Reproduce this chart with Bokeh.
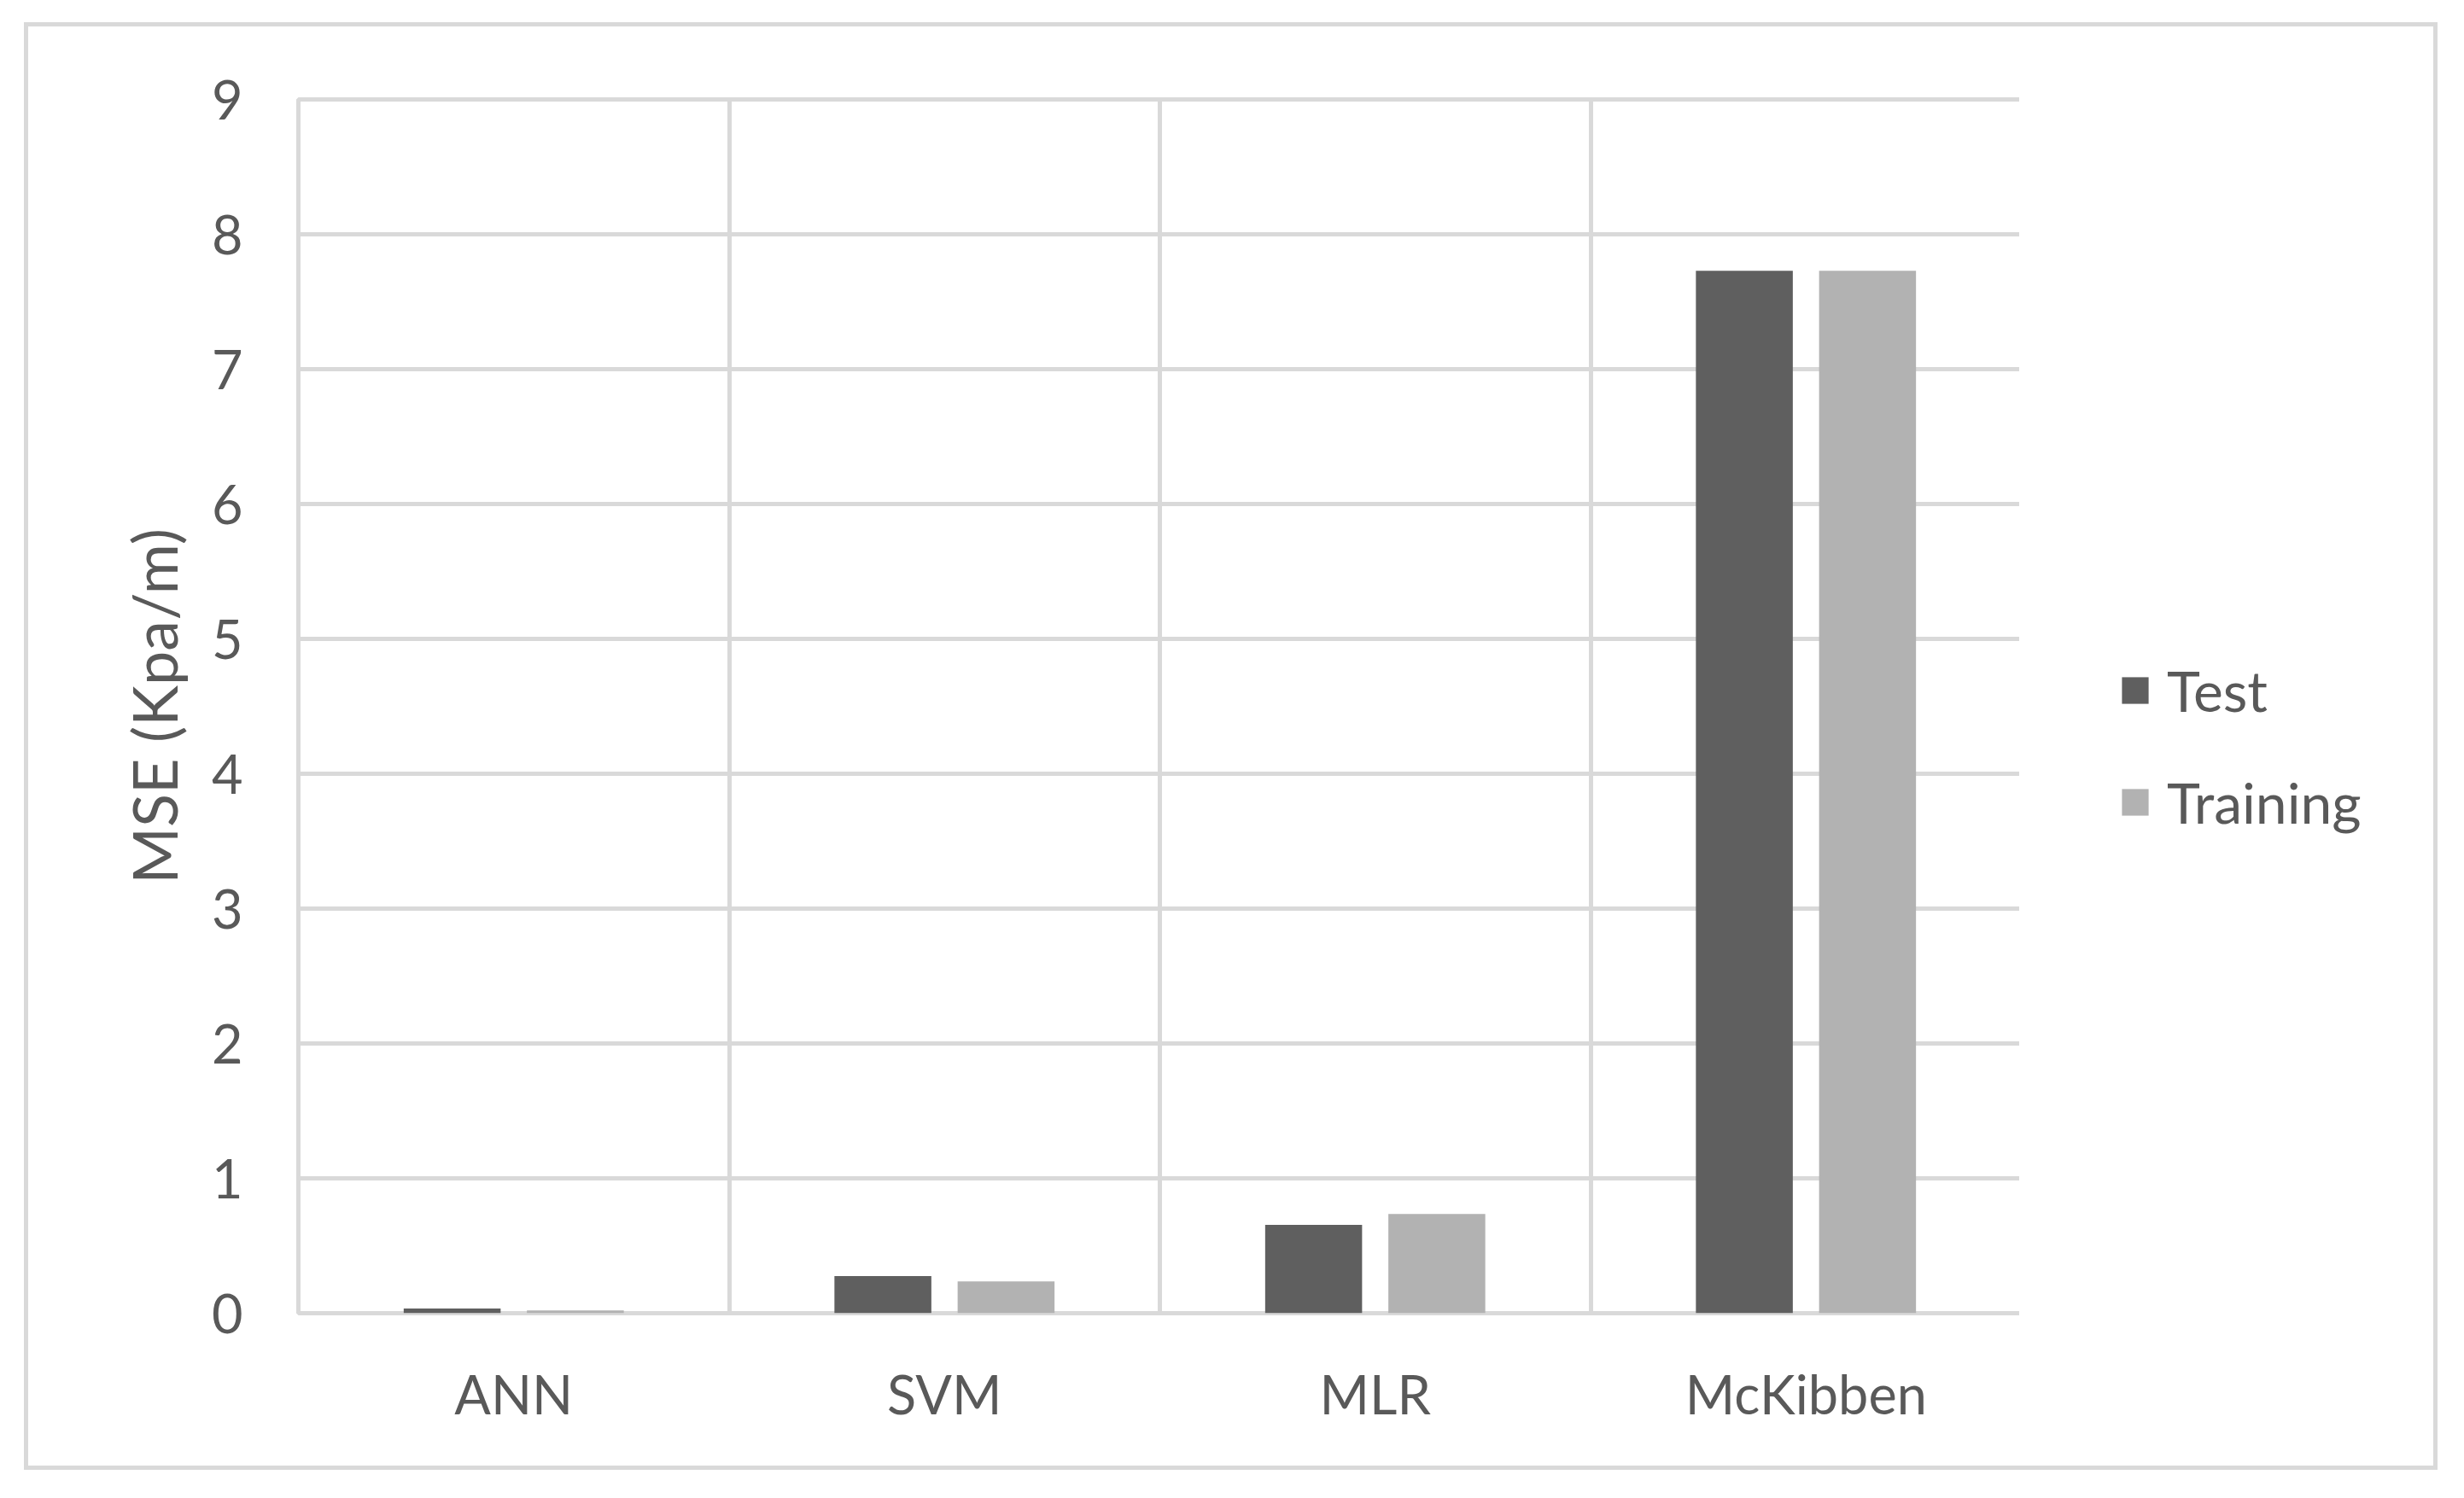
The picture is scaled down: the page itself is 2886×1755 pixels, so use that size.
from bokeh.plotting import figure
from bokeh.layouts import row
from bokeh.models import ColumnDataSource, FactorRange, Range1d, FixedTicker, Legend, LegendItem
from bokeh.transform import dodge
from bokeh.embed import file_html
from bokeh.resources import INLINE

categories = ["ANN", "SVM", "MLR", "McKibben"]
test_mse = [0.035, 0.275, 0.655, 7.73]
training_mse = [0.02, 0.235, 0.735, 7.73]
y_ticks = [0, 1, 2, 3, 4, 5, 6, 7, 8, 9]
series_names = ["Test", "Training"]

FONT = "Lato"
TXT = "#595959"
GRID = "#d9d9d9"
FS = "63px"
TEST_COLOR = "#5f5f5f"
TRAIN_COLOR = "#b2b2b2"

src = ColumnDataSource(dict(cat=categories, test=test_mse, training=training_mse))
xr = FactorRange(*categories, range_padding=0)

# main chart
p = figure(
    x_range=xr, y_range=Range1d(0, 9),
    width=2337, height=1696,
    output_backend="svg", toolbar_location=None,
    min_border_left=316, min_border_right=3, min_border_top=85, min_border_bottom=189,
)
p.styles = {"border-left": "5px solid #d9d9d9", "border-top": "5px solid #d9d9d9",
            "border-bottom": "5px solid #d9d9d9"}

p.vbar(x=dodge("cat", -0.143, range=xr), top="test", width=0.225,
       source=src, fill_color=TEST_COLOR, line_color=None)
p.vbar(x=dodge("cat", 0.143, range=xr), top="training", width=0.225,
       source=src, fill_color=TRAIN_COLOR, line_color=None)

p.outline_line_color = GRID
p.outline_line_width = 5
p.ygrid.grid_line_color = GRID
p.ygrid.grid_line_width = 5
p.xgrid.ticker = FixedTicker(ticks=[1, 2, 3])
p.xgrid.grid_line_color = GRID
p.xgrid.grid_line_width = 5

p.yaxis.ticker = FixedTicker(ticks=y_ticks)
for ax in (p.xaxis[0], p.yaxis[0]):
    ax.axis_line_color = None
    ax.major_tick_line_color = None
    ax.minor_tick_line_color = None
    ax.major_label_text_font = FONT
    ax.major_label_text_font_size = FS
    ax.major_label_text_color = TXT
p.yaxis.major_label_standoff = 59
p.xaxis.major_label_standoff = 50
p.yaxis.axis_label = "MSE (Kpa/m)"
p.yaxis.axis_label_text_font = FONT
p.yaxis.axis_label_text_font_size = "72px"
p.yaxis.axis_label_text_font_style = "normal"
p.yaxis.axis_label_text_color = TXT
p.yaxis.axis_label_standoff = 22

# legend panel (same series; its renderers are hidden so only the legend shows)
pl = figure(
    x_range=xr, y_range=Range1d(100, 101),
    width=490, height=1696,
    output_backend="svg", toolbar_location=None,
    x_axis_location=None, y_axis_location=None,
    min_border_left=0, min_border_right=0, min_border_top=0, min_border_bottom=0,
)
pl.styles = {"border-right": "5px solid #d9d9d9", "border-top": "5px solid #d9d9d9",
             "border-bottom": "5px solid #d9d9d9"}
pl.outline_line_color = None
pl.xgrid.visible = False
pl.ygrid.visible = False
l1 = pl.vbar(x=dodge("cat", -0.143, range=xr), top="test", width=0.225,
             source=src, fill_color=TEST_COLOR, line_color=None, visible=False)
l2 = pl.vbar(x=dodge("cat", 0.143, range=xr), top="training", width=0.225,
             source=src, fill_color=TRAIN_COLOR, line_color=None, visible=False)

legend = Legend(
    items=[LegendItem(label=series_names[0], renderers=[l1]),
           LegendItem(label=series_names[1], renderers=[l2])],
    location=(116, 559),
    glyph_width=39, glyph_height=39, label_standoff=18, spacing=52,
    label_text_font=FONT, label_text_font_size="66px", label_text_color=TXT,
    border_line_color=None, background_fill_alpha=0, padding=0, margin=0,
    click_policy="none",
)
pl.add_layout(legend)

layout = row(p, pl, styles={"margin-left": "28px", "margin-top": "26px"})

open("out.html", "w").write(file_html(layout, INLINE))
